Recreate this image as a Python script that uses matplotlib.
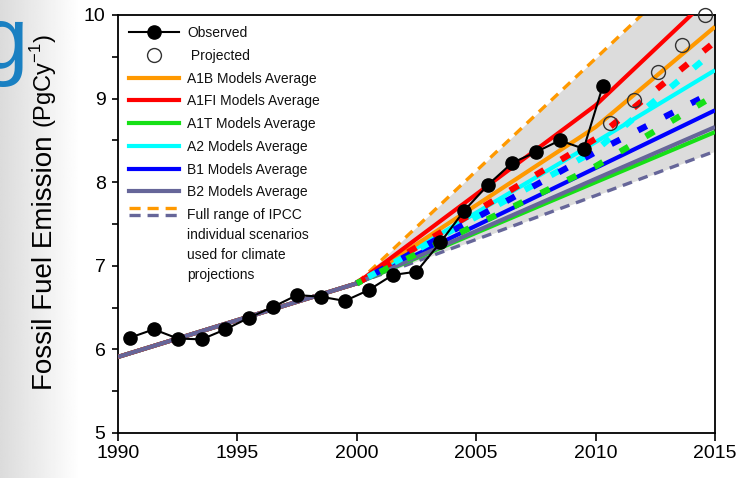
import numpy as np
import matplotlib
matplotlib.use("Agg")
import matplotlib.pyplot as plt
from matplotlib.lines import Line2D
from matplotlib.legend_handler import HandlerBase
from matplotlib.ticker import MultipleLocator

plt.rcParams['font.family'] = ['Liberation Sans', 'DejaVu Sans']
plt.rcParams['mathtext.fontset'] = 'custom'
plt.rcParams['mathtext.rm'] = 'Liberation Sans'
plt.rcParams['lines.scale_dashes'] = False

# observed and projected emissions (PgC/y)
obs_years = [1990.5, 1991.5, 1992.5, 1993.5, 1994.5, 1995.5, 1996.5, 1997.5, 1998.5, 1999.5,
             2000.5, 2001.5, 2002.5, 2003.5, 2004.5, 2005.5, 2006.5, 2007.5, 2008.5, 2009.5, 2010.3]
obs_vals = [6.14, 6.24, 6.13, 6.12, 6.24, 6.38, 6.51, 6.65, 6.63, 6.58,
            6.71, 6.89, 6.93, 7.28, 7.66, 7.97, 8.23, 8.36, 8.50, 8.40, 9.15]
proj_years = [2010.6, 2011.6, 2012.6, 2013.6, 2014.6]
proj_vals = [8.71, 8.98, 9.32, 9.64, 10.0]

# SRES model averages, knots at 1990, 2000, 2010, 2015
sres_years = [1990, 2000, 2010, 2015]
a1b = [5.91, 6.79, 8.66, 9.86]
a1fi = [5.91, 6.79, 8.92, 10.27]
a1t = [5.91, 6.79, 8.00, 8.60]
a2 = [5.91, 6.79, 8.48, 9.34]
b1 = [5.91, 6.79, 8.17, 8.86]
b2 = [5.91, 6.79, 8.04, 8.66]
range_hi = [5.91, 6.79, 9.48, 10.83]
range_lo = [5.91, 6.79, 7.84, 8.37]

# dashed scenario lines, knots at 2000, 2010, 2015
dash_years = [2000, 2010, 2015]
red_d = [6.79, 8.52, 9.68]
cyan_d = [6.79, 8.38, 9.58]
blue_d = [6.79, 8.36, 9.09]
green_d = [6.79, 8.19, 9.04]

c_orange = '#ff9900'
c_red = '#ff0000'
c_green = '#16e016'
c_cyan = '#00ffff'
c_blue = '#0000ff'
c_slate = '#666699'

fig = plt.figure(figsize=(7.56, 4.78), dpi=100)

# background strip at left (slide texture)
bg = fig.add_axes([0, 0, 0.15, 1], zorder=-5)
grad = np.linspace(0, 1, 200)
shade = np.clip(0.86 + 0.14 * grad / 0.7, 0, 1)
bg.imshow(np.tile(shade, (10, 1)), cmap='gray', vmin=0, vmax=1, aspect='auto',
          extent=[0, 1, 0, 1])
bg.axis('off')
fig.text(28 / 756, 1 - 68 / 478, 'g', color='#1a80c2', fontsize=64,
         ha='right', va='baseline')

ax = fig.add_axes([118 / 756, 45 / 478, 597 / 756, 418 / 478])

yrs = np.array(sres_years)
ax.fill_between(yrs[1:], np.array(range_lo)[1:], np.array(range_hi)[1:],
                color='#dcdcdc', lw=0, zorder=1)

ax.plot(yrs, range_hi, color=c_orange, lw=2.4, ls=(0, (7, 5)), zorder=2)
ax.plot(yrs, range_lo, color=c_slate, lw=2.4, ls=(0, (7, 5)), zorder=2)

for vals, col in ((a1t, c_green), (b1, c_blue), (a2, c_cyan),
                  (a1b, c_orange), (a1fi, c_red), (b2, c_slate)):
    ax.plot(yrs, vals, color=col, lw=3, solid_capstyle='butt', zorder=3)

for vals, col, off in ((red_d, c_red, 0), (cyan_d, c_cyan, 12),
                       (blue_d, c_blue, 6), (green_d, c_green, 3)):
    ax.plot(dash_years, vals, color=col, lw=4.5, ls=(off, (7, 14.5)),
            dash_capstyle='butt', zorder=4)

ax.plot(obs_years, obs_vals, color='black', lw=1.5, marker='o', ms=9.5,
        zorder=6, clip_on=False)
ax.plot(proj_years, proj_vals, ls='none', marker='o', ms=10, mfc='none',
        mec='#333333', mew=1, zorder=6, clip_on=False)

ax.set_xlim(1990, 2015)
ax.set_ylim(5, 10)
ax.set_xticks([1990, 1995, 2000, 2005, 2010, 2015])
ax.yaxis.set_major_locator(MultipleLocator(1))
ax.yaxis.set_minor_locator(MultipleLocator(0.5))
ax.tick_params(axis='x', direction='out', length=6, width=1.2, labelsize=14, pad=3)
ax.tick_params(axis='y', which='both', direction='out', length=4, width=1.2,
               labelsize=14, pad=5)
for s in ax.spines.values():
    s.set_linewidth(1.3)

fig.text(52 / 756, 1 - 390 / 478, 'Fossil Fuel Emission', rotation=90,
         rotation_mode='anchor', ha='left', va='baseline', fontsize=20)
fig.text(52 / 756, 1 - 128 / 478, r'(PgCy$^{\mathregular{-1}}$)', rotation=90,
         rotation_mode='anchor', ha='left', va='baseline', fontsize=17)


class RangeHandler(HandlerBase):
    def create_artists(self, legend, orig_handle, xdescent, ydescent, width,
                       height, fontsize, trans):
        arts = []
        for col, dy in ((c_orange, 2.75), (c_slate, 2.25)):
            y = height / 2 + dy * fontsize
            ln = Line2D([-xdescent, width - xdescent], [y, y], color=col, lw=2.4,
                        ls=(0, (8, 5)), transform=trans)
            arts.append(ln)
        return arts


h_obs = Line2D([], [], color='black', lw=1.5, marker='o', ms=9.5)
h_proj = Line2D([], [], ls='none', marker='o', ms=10, mfc='none', mec='#333333', mew=1)
h_lines = [Line2D([], [], color=c, lw=3) for c in
           (c_orange, c_red, c_green, c_cyan, c_blue, c_slate)]
h_range = ('range',)
labels = ['Observed', ' Projected', 'A1B Models Average', 'A1FI Models Average',
          'A1T Models Average', 'A2 Models Average', 'B1 Models Average',
          'B2 Models Average',
          'Full range of IPCC\nindividual scenarios\nused for climate\nprojections']
leg = ax.legend([h_obs, h_proj] + h_lines + [h_range], labels, loc='upper left',
                bbox_to_anchor=(0.0, 1.0), frameon=False, fontsize=10,
                numpoints=1, handlelength=3.6, handletextpad=0.6,
                labelspacing=0.63, borderaxespad=0.4,
                handler_map={tuple: RangeHandler()})
for t in leg.get_texts():
    t.set_linespacing(1.55)
    t.set_color('#111111')

fig.savefig('out.png', dpi=100)
